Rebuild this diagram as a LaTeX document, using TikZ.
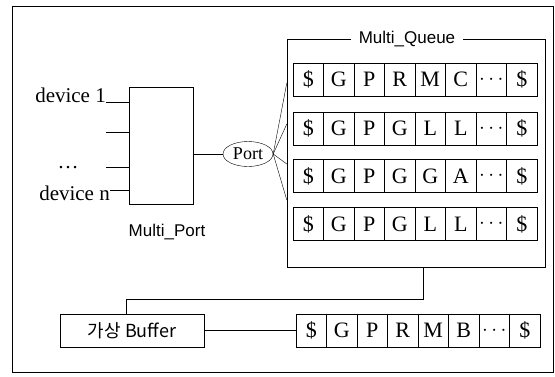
\documentclass[tikz,border=0pt]{standalone}
\usepackage{fontspec}
\setmainfont{Liberation Serif}
\newfontfamily\labelfont{Liberation Sans}
\newfontfamily\krfont{Noto Sans CJK KR}
\usetikzlibrary{shapes.geometric, positioning, calc}

\begin{document}
\begin{tikzpicture}[x=1pt, y=-1pt]
    \tikzset{cell/.style={draw, minimum width=30.5pt, minimum height=33pt, inner sep=0pt, font=\fontsize{22}{22}\selectfont},
        container/.style={draw, inner sep=0pt},
        devtext/.style={font=\fontsize{21}{21}\selectfont, inner sep=0pt},
        sanstext/.style={font=\labelfont\fontsize{17}{17}\selectfont, inner sep=1pt}
    }
    \useasboundingbox (0,0) rectangle (555,376);
    \draw (12,6) rectangle (553,372);

    % multi port with its devices
    \node (MP) [container, minimum width=64pt, minimum height=117pt] at (161,145.5) {};
    \node (MP-Title) [sanstext] at (167,232) {Multi\_Port};
    \node (Dev1) [devtext, anchor=base east] at (106,102) {device 1};
    \node (DevDots) [devtext] at (68,168) {\dots};
    \node (DevN) [devtext, anchor=base east] at (110,200) {device n};
    \coordinate (D2) at (106,132);
    \coordinate (D3) at (106,167);
    \draw (Dev1.base east) -- (Dev1.base east -| MP.west);
    \draw (D2) -- (D2 -| MP.west);
    \draw (D3) -- (D3 -| MP.west);
    \draw ([yshift=10]DevN.base east) -- ([yshift=10]DevN.base east -| MP.west);

    \node (Port) [draw, ellipse, minimum width=50pt, minimum height=25pt, inner sep=0pt, font=\fontsize{18}{18}\selectfont] at (248,154) {Port};
    \draw (Port.west -| MP.east) -- (Port.west);

    % queues
    \node (MQ) [container, minimum width=258pt, minimum height=228pt] at (416,153) {};
    \node (MQ-Title) [sanstext, fill=white, inner xsep=8pt] at (407,39) {Multi\_Queue};

    \foreach \r / \x / \y / \cells in {1/293/79.5/{\$,G,P,R,M,C,$\cdots$,\$},
                                   2/293/128.5/{\$,G,P,G,L,L,$\cdots$,\$},
                                   3/293/176/{\$,G,P,G,G,A,$\cdots$,\$},
                                   4/293/224/{\$,G,P,G,L,L,$\cdots$,\$},
                                   V/296/330.5/{\$,G,P,R,M,B,$\cdots$,\$}} {
        \foreach \c [count=\k] in \cells {
            \node (Q\r-\k) [cell] at (\x + 15.25 + 30.5*\k - 30.5, \y) {\c};
        }
    }

    \foreach \t in {83, 124, 164, 200} {
        \draw (Port.east) -- (MQ.west |- 0,\t);
    }

    % virtual buffer
    \node (Buf) [container, minimum width=144pt, minimum height=33pt, font=\krfont\fontsize{18}{18}\selectfont] at (132,330.5) {가상 Buffer};
    \draw ([xshift=7]MQ.south) -- ++(0,32) -| ([xshift=-6]Buf.north);
    \draw (Buf.east) -- (QV-1.west);
\end{tikzpicture}
\end{document}
